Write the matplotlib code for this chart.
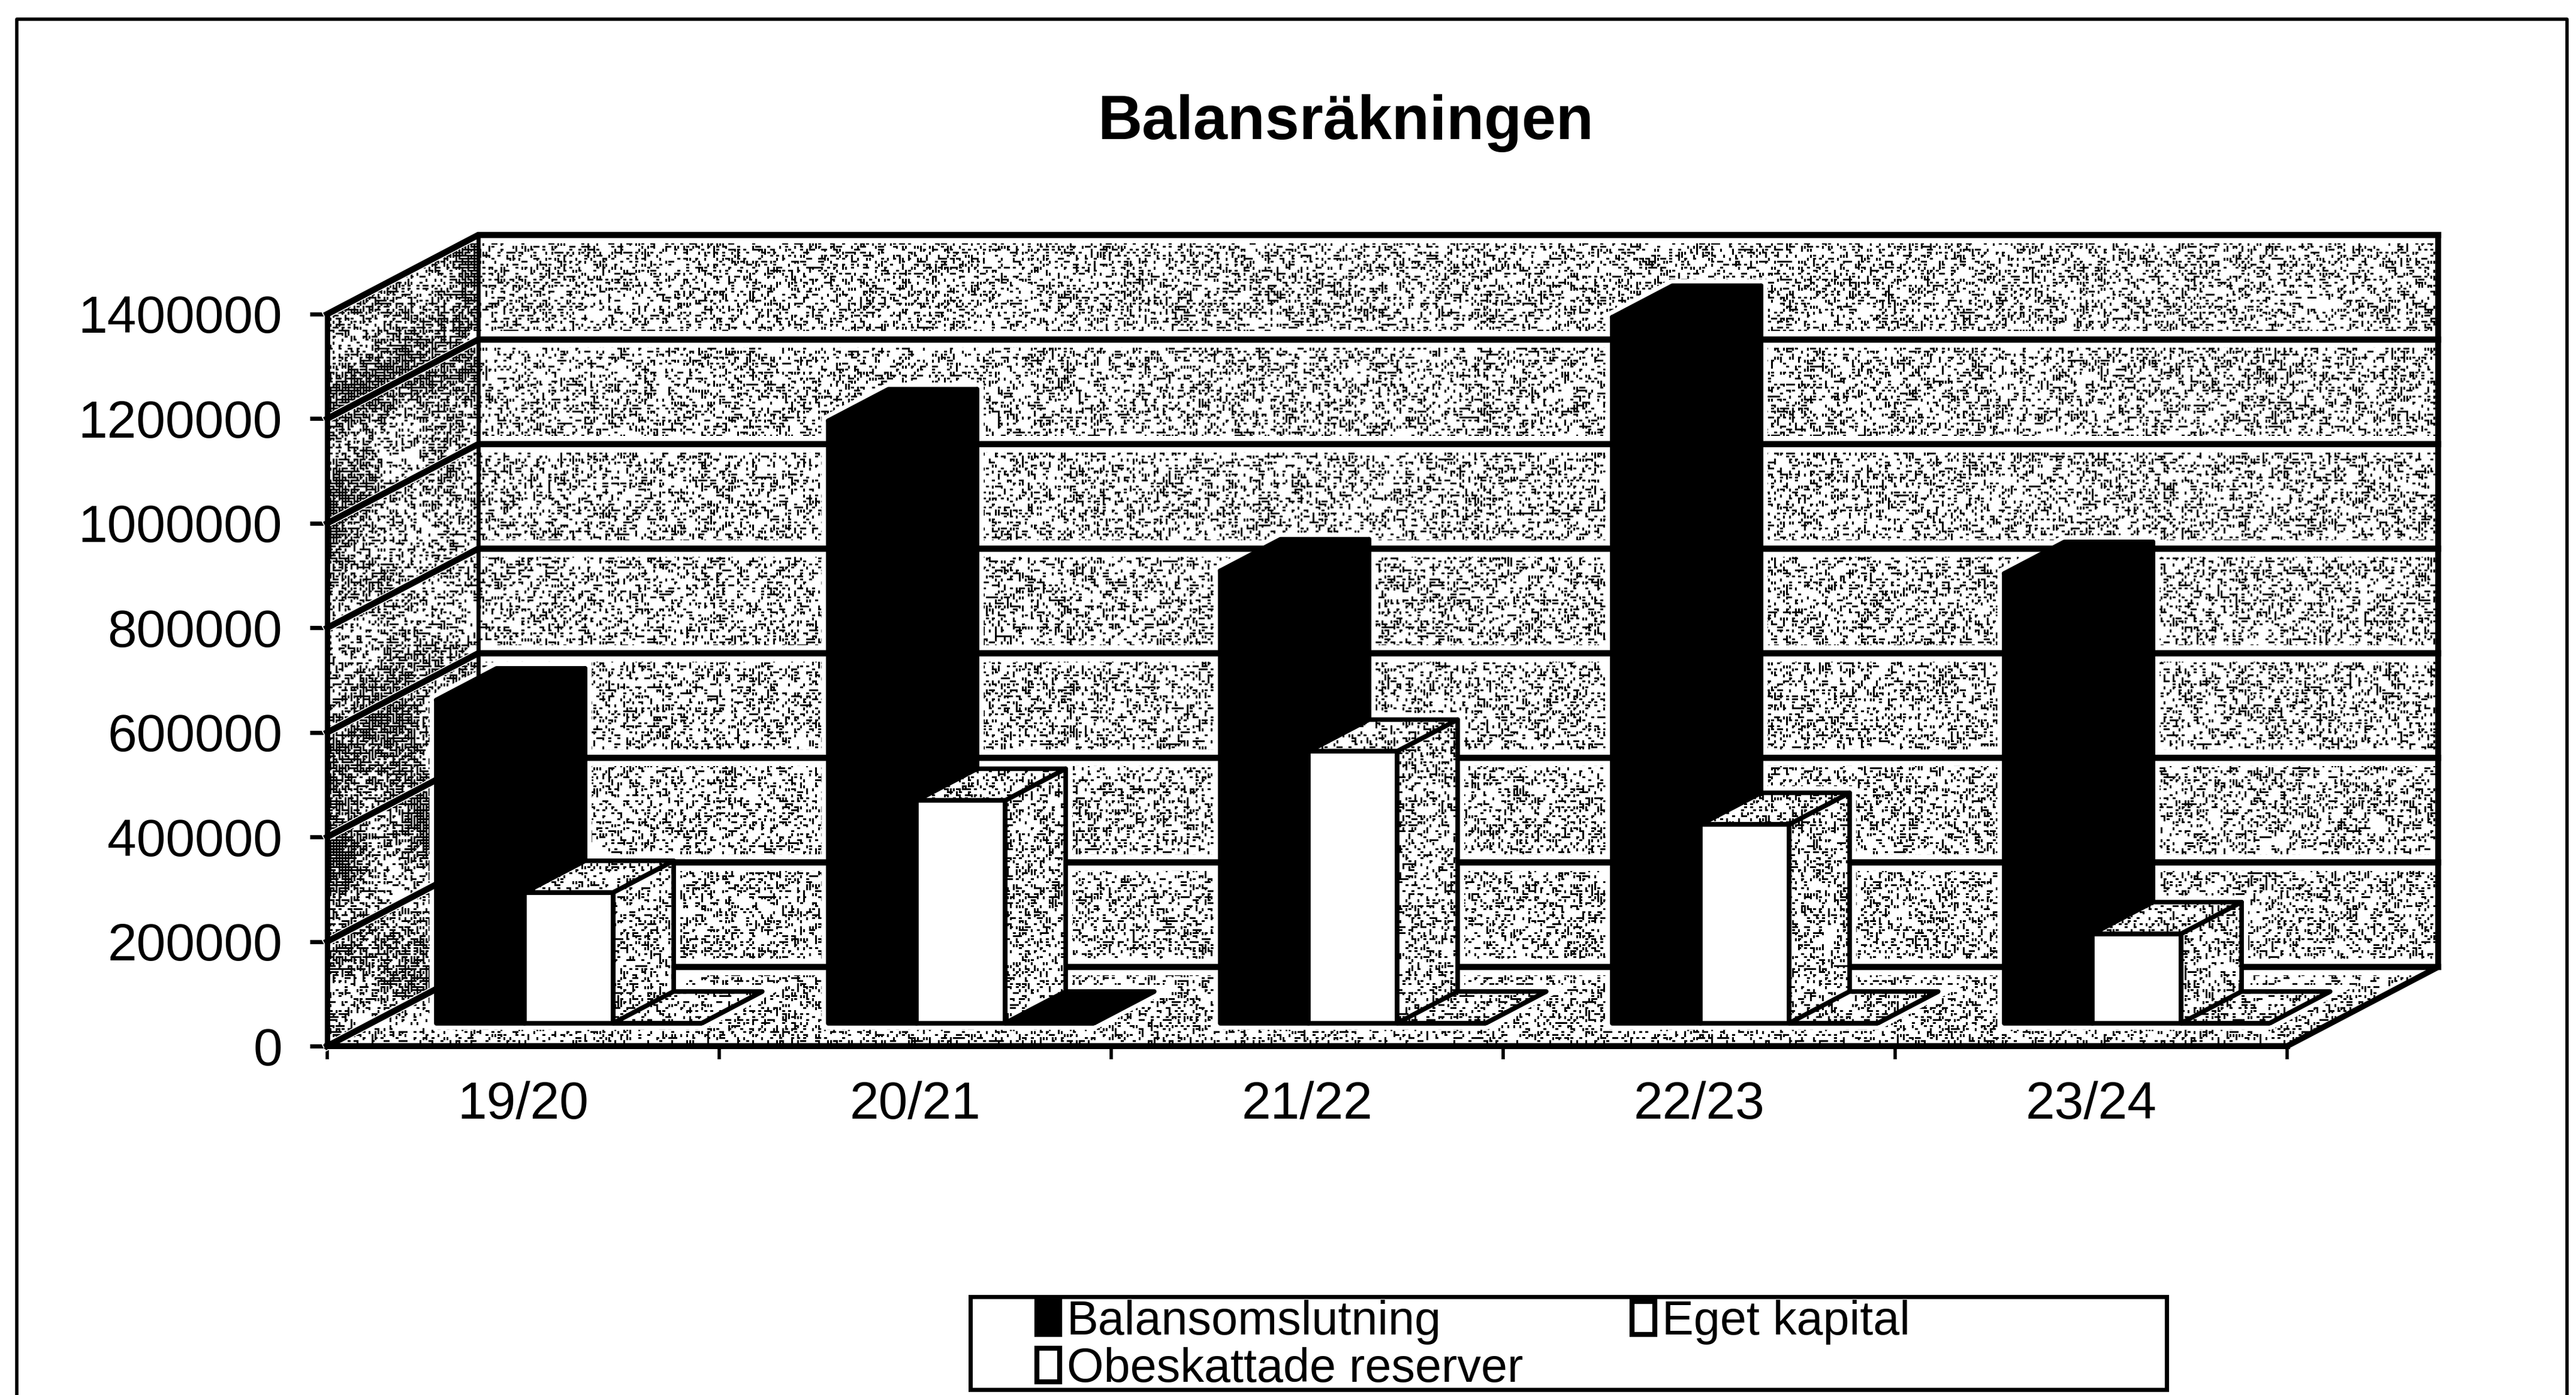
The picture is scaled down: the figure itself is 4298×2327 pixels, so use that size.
import numpy as np
import matplotlib
matplotlib.use('Agg')
import matplotlib.pyplot as plt
from matplotlib.patches import Patch, Polygon, Rectangle

plt.rcParams['font.family'] = ['Liberation Sans', 'DejaVu Sans']

# Data
years = ['19/20', '20/21', '21/22', '22/23', '23/24']
balansomslutning = [618000, 1152000, 865000, 1350000, 860000]
eget_kapital = [250000, 426000, 520000, 380000, 171000]
obeskattade = [0, 0, 0, 0, 0]
y_ticks = [0, 200000, 400000, 600000, 800000, 1000000, 1200000, 1400000]

W, H = 4298, 2327
fig = plt.figure(figsize=(W / 100, H / 100), dpi=100, facecolor='white')
ax = fig.add_axes([546 / W, (H - 1745) / H, 3270 / W, 1221 / H])
ymax = 1400000
ax.set_xlim(0, 5)
ax.set_ylim(0, ymax)

# oblique projection of the fake 3D box, as Excel draws it
DX = 252 / 654          # depth in category units
DY = 132 / 1221 * ymax  # depth in value units
BAR_W = 0.226
BAR_X0 = 0.166
D0, D1 = 0.29, 0.69


def pt(x, v, d=0.0):
    return (x + d * DX, v + d * DY)


# stipple fill: short horizontal and vertical strokes on a 5 px lattice,
# denser blotches on the left wall
rng = np.random.default_rng(11)
CELL = 5
ch, cw = H // CELL + 1, W // CELL + 1
grain_h = rng.random((ch, cw))
grain_v = rng.random((ch, cw))
blot = rng.random((ch, cw))
fy = np.fft.fftfreq(ch)[:, None]
fx = np.fft.fftfreq(cw)[None, :]
blot = np.fft.ifft2(np.fft.fft2(blot) * np.exp(-(fx**2 + fy**2) * 1200)).real
blot = (blot - blot.mean()) / blot.std()
rows, cols = np.mgrid[0:H, 0:W]


def to_img(p):
    up_h = np.repeat(np.repeat(grain_h < p, CELL, axis=0), CELL, axis=1)[:H, :W]
    up_v = np.repeat(np.repeat(grain_v < p, CELL, axis=0), CELL, axis=1)[:H, :W]
    dark = (up_h & (rows % CELL < 3)) | (up_v & (cols % CELL < 3))
    return (~dark).astype(float)


img_wall = to_img(0.21)
img_side = to_img(np.clip(0.50 + 0.25 * blot, 0.22, 0.9))


def stipple(points, img, zorder):
    poly = Polygon(points, closed=True, facecolor='white', edgecolor='none', clip_on=False, zorder=zorder)
    ax.add_patch(poly)
    im = ax.imshow(img, extent=(0, 1, 0, 1), transform=fig.transFigure, cmap='gray', vmin=0, vmax=1,
                   interpolation='nearest', aspect='auto', zorder=zorder)
    im.set_clip_box(fig.bbox)
    im.set_clip_path(poly)


# walls and floor
stipple([pt(0, 0, 1), pt(5, 0, 1), pt(5, ymax, 1), pt(0, ymax, 1)], img_wall, 1)
stipple([pt(0, 0, 0), pt(0, 0, 1), pt(0, ymax, 1), pt(0, ymax, 0)], img_side, 1)
stipple([pt(0, 0, 0), pt(5, 0, 0), pt(5, 0, 1), pt(0, 0, 1)], img_wall, 1)

# white margin round the lines and bars, then the gridlines
for tick in y_ticks:
    ax.plot(*zip(pt(0, tick, 1), pt(5, tick, 1)), color='white', lw=20, clip_on=False, zorder=2)
    ax.plot(*zip(pt(0, tick, 0), pt(0, tick, 1)), color='white', lw=10, clip_on=False, zorder=2)
for i in range(5):
    x0 = i + BAR_X0
    for k, vals in enumerate([balansomslutning, eget_kapital, obeskattade]):
        a, b = x0 + k * BAR_W, x0 + (k + 1) * BAR_W
        v = vals[i]
        ax.add_patch(Polygon([pt(a, 0, D0), pt(b, 0, D0), pt(b, 0, D1), pt(b, v, D1), pt(a, v, D1), pt(a, v, D0)],
                             closed=True, facecolor='white', edgecolor='white', lw=16, clip_on=False, zorder=2))

for tick in y_ticks:
    ax.plot(*zip(pt(0, tick, 0), pt(0, tick, 1), pt(5, tick, 1)), color='black', lw=7.5, clip_on=False, zorder=3,
            solid_joinstyle='miter')
ax.plot(*zip(pt(5, 0, 0), pt(5, 0, 1), pt(5, ymax, 1)), color='black', lw=7, clip_on=False, zorder=3)
ax.plot(*zip(pt(0, 0, 1), pt(0, ymax, 1)), color='black', lw=5, clip_on=False, zorder=3)


def box(a, b, v, front, top, side, z, edge='black', lw=5.5):
    f = [pt(a, 0, D0), pt(b, 0, D0), pt(b, v, D0), pt(a, v, D0)]
    t = [pt(a, v, D0), pt(b, v, D0), pt(b, v, D1), pt(a, v, D1)]
    s = [pt(b, 0, D0), pt(b, 0, D1), pt(b, v, D1), pt(b, v, D0)]
    for pts, col in [(f, front), (t, top), (s, side)]:
        if col == 'stipple':
            stipple(pts, img_wall, z)
            col = 'none'
        ax.add_patch(Polygon(pts, closed=True, facecolor=col, edgecolor=edge, lw=lw, clip_on=False, zorder=z + 0.1,
                             joinstyle='round'))


z = 4
for i in range(5):
    x0 = i + BAR_X0
    box(x0, x0 + BAR_W, balansomslutning[i], 'black', 'black', 'black', z)
    box(x0 + BAR_W, x0 + 2 * BAR_W, eget_kapital[i], 'white', 'stipple', 'stipple', z + 1)
    # the third series is empty, only its lid shows; the one for 20/21 came out dark in the print
    box(x0 + 2 * BAR_W, x0 + 3 * BAR_W, obeskattade[i], 'white', 'black' if i == 1 else 'stipple', 'none', z + 2)
    z += 3

ax.set_xticks(range(6))
ax.set_xticklabels([])
ax.set_xticks([i + 0.5 for i in range(5)], labels=years, minor=True)
ax.set_yticks(y_ticks)
ax.set_yticklabels([str(t) for t in y_ticks])
ax.tick_params(axis='y', length=21, width=5, pad=33, labelsize=63)
ax.tick_params(axis='x', which='major', length=16, width=4)
ax.tick_params(axis='x', which='minor', length=0, pad=42, labelsize=63)
for name in ['top', 'right']:
    ax.spines[name].set_visible(False)
ax.spines['left'].set_linewidth(6.5)
ax.spines['bottom'].set_linewidth(7.2)
for s in ax.spines.values():
    s.set_zorder(40)
ax.set_xlim(0, 5)
ax.set_ylim(0, ymax)
ax.patch.set_visible(False)

fig.text(2245 / W, 1 - 205 / H, 'Balansräkningen', fontsize=74, fontweight='bold', ha='center', va='center')

# outer frame, no bottom line on the page
fig.add_artist(plt.Line2D([28 / W, 28 / W, 4283 / W, 4283 / W], [0, 1 - 32 / H, 1 - 32 / H, 0], color='black', lw=4))

# legend box
fig.add_artist(Rectangle((1619 / W, 1 - 2318 / H), (3615 - 1619) / W, (2318 - 2163) / H, transform=fig.transFigure,
                         facecolor='white', edgecolor='black', lw=5, zorder=50))
# two rows fill column by column, so Eget kapital comes last to land at top right
handles = [Patch(facecolor='black', edgecolor='black', lw=6, label='Balansomslutning'),
           Patch(facecolor='white', edgecolor='black', lw=6, label='Obeskattade reserver'),
           Patch(facecolor='white', edgecolor='black', lw=6, label='Eget kapital')]
leg = fig.legend(handles=handles, ncol=2, loc='upper left', bbox_to_anchor=(1722 / W, 1 - 2160 / H), frameon=False,
                 fontsize=57, handlelength=0.48, handleheight=0.7, handletextpad=0.15, columnspacing=2.3,
                 labelspacing=0.05, borderpad=0.1, borderaxespad=0)
leg.set_zorder(51)

fig.savefig('out.png', dpi=100)
